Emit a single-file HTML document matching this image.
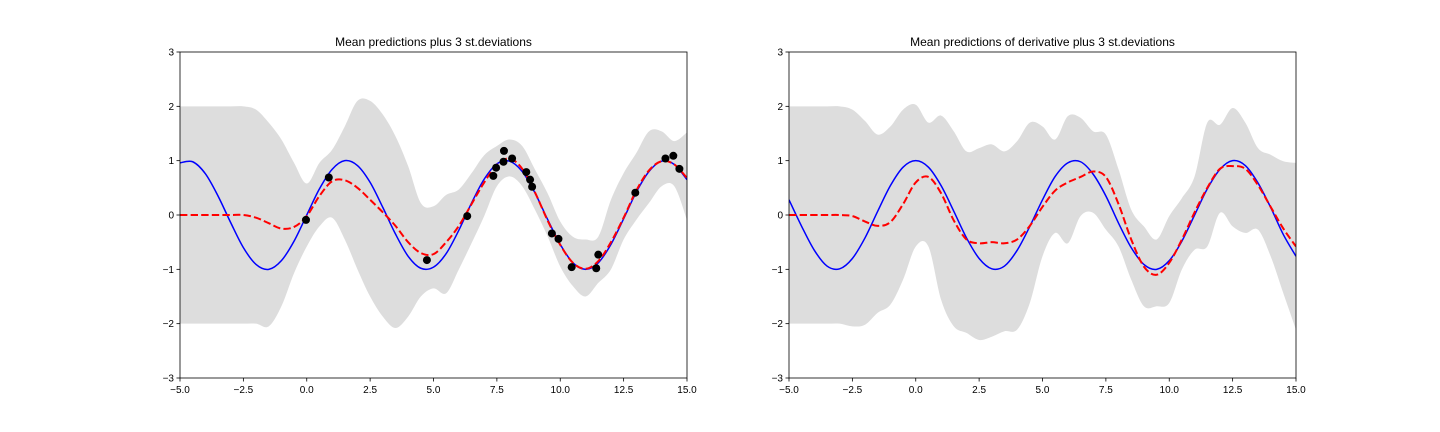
<!DOCTYPE html>
<html><head><meta charset="utf-8"><style>
html,body{margin:0;padding:0;background:#fff;}
svg{display:block;font-family:"Liberation Sans","DejaVu Sans",sans-serif;}
</style></head><body>
<svg id="chart" width="1440" height="432" viewBox="0 0 1440 432" xmlns="http://www.w3.org/2000/svg"></svg>
<script>
const xs = [];
for (let i = 0; i <= 40; i++) xs.push(-5 + i * 0.5);
const xTicks = [-5, -2.5, 0, 2.5, 5, 7.5, 10, 12.5, 15];
const xTickLabels = ["\u22125.0","\u22122.5","0.0","2.5","5.0","7.5","10.0","12.5","15.0"];
const yTicks = [-3, -2, -1, 0, 1, 2, 3];
const yTickLabels = ["\u22123","\u22122","\u22121","0","1","2","3"];

const leftTrue = [0.96,0.98,0.76,0.35,-0.14,-0.60,-0.91,-1.0,-0.84,-0.48,0,0.48,0.84,1.0,0.91,0.60,0.14,-0.35,-0.76,-0.98,-0.96,-0.71,-0.28,0.22,0.66,0.94,0.99,0.80,0.41,-0.08,-0.54,-0.88,-1.0,-0.88,-0.54,-0.07,0.42,0.80,0.99,0.93,0.65];
const leftMean = [0,0,0,0,0,0,-0.05,-0.15,-0.25,-0.22,-0.02,0.35,0.62,0.64,0.5,0.28,0.05,-0.2,-0.5,-0.7,-0.72,-0.5,-0.2,0.2,0.6,0.92,1.04,0.85,0.42,-0.1,-0.55,-0.88,-0.99,-0.85,-0.5,-0.05,0.45,0.82,0.99,0.93,0.68];
const leftUpper = [2,2,2,2,2,2,1.94,1.7,1.39,0.96,0.58,0.96,1.2,1.63,2.1,2.1,1.85,1.45,0.9,0.22,0.16,0.37,0.47,0.77,1.1,1.27,1.39,1.27,0.84,0.4,-0.12,-0.4,-0.45,-0.4,0.28,0.77,1.14,1.54,1.54,1.36,1.52];
const leftLower = [-2,-2,-2,-2,-2,-2,-2,-2.05,-1.68,-1.07,-0.58,-0.21,-0.05,-0.45,-1.0,-1.5,-1.87,-2.08,-1.87,-1.5,-1.35,-1.44,-1.0,-0.52,-0.02,0.53,0.71,0.53,0.1,-0.39,-0.95,-1.31,-1.5,-1.25,-1.0,-0.45,-0.09,0.22,0.53,0.53,-0.09];
const obsX = [-0.03,0.87,4.74,6.33,7.36,7.47,7.76,7.78,8.1,8.66,8.81,8.89,9.67,9.93,10.45,11.42,11.5,12.96,14.15,14.46,14.7];
const obsY = [-0.09,0.69,-0.83,-0.02,0.72,0.87,0.98,1.18,1.04,0.79,0.65,0.52,-0.34,-0.44,-0.96,-0.98,-0.73,0.41,1.04,1.09,0.85];

const rightTrue = [0.28,-0.21,-0.65,-0.94,-0.99,-0.80,-0.42,0.07,0.54,0.88,1.0,0.88,0.54,0.07,-0.42,-0.80,-0.99,-0.94,-0.65,-0.21,0.28,0.71,0.96,0.98,0.75,0.35,-0.15,-0.60,-0.91,-1.0,-0.84,-0.48,0.0,0.48,0.84,1.0,0.91,0.59,0.14,-0.36,-0.76];
const rightMean = [0,0,0,0,0,-0.02,-0.12,-0.2,-0.13,0.2,0.6,0.7,0.4,-0.1,-0.45,-0.52,-0.5,-0.52,-0.45,-0.2,0.15,0.45,0.6,0.7,0.8,0.7,0.2,-0.45,-0.95,-1.1,-0.88,-0.45,0.05,0.5,0.85,0.9,0.85,0.55,0.15,-0.25,-0.58];
const rightUpper = [2,2,2,2,2,1.94,1.73,1.48,1.63,1.94,2.03,1.7,1.83,1.54,1.17,1.23,1.3,1.17,1.36,1.7,1.63,1.39,1.82,1.79,1.54,1.48,0.84,0.1,-0.21,-0.45,-0.02,0.31,0.71,1.7,1.66,1.97,1.7,1.23,1.11,0.99,0.96];
const rightLower = [-2,-2,-2,-2,-2,-2.05,-2.02,-1.8,-1.65,-1.19,-0.58,-0.58,-1.56,-2.05,-2.17,-2.3,-2.24,-2.14,-2.11,-1.62,-0.76,-0.33,-0.52,-0.02,0.04,-0.27,-0.58,-1.19,-1.68,-1.68,-1.62,-1.0,-0.64,-0.58,0.04,-0.21,-0.33,-0.27,-0.76,-1.44,-2.11];

const NS = "http://www.w3.org/2000/svg";
const svg = document.getElementById("chart");
function mk(tag, attrs, parent) {
  const e = document.createElementNS(NS, tag);
  for (const k in attrs) e.setAttribute(k, attrs[k]);
  (parent || svg).appendChild(e);
  return e;
}
function smooth(pts) {
  let d = "M" + pts[0][0].toFixed(2) + "," + pts[0][1].toFixed(2);
  for (let i = 0; i < pts.length - 1; i++) {
    const p0 = pts[Math.max(0, i - 1)], p1 = pts[i], p2 = pts[i + 1], p3 = pts[Math.min(pts.length - 1, i + 2)];
    const c1x = p1[0] + (p2[0] - p0[0]) / 6, c1y = p1[1] + (p2[1] - p0[1]) / 6;
    const c2x = p2[0] - (p3[0] - p1[0]) / 6, c2y = p2[1] - (p3[1] - p1[1]) / 6;
    d += "C" + c1x.toFixed(2) + "," + c1y.toFixed(2) + " " + c2x.toFixed(2) + "," + c2y.toFixed(2) + " " + p2[0].toFixed(2) + "," + p2[1].toFixed(2);
  }
  return d;
}
function panel(id, left, top, w, h, title, trueY, meanY, upY, loY, px, py) {
  const sx = v => left + (v + 5) / 20 * w;
  const sy = v => top + (3 - v) / 6 * h;
  const g = mk("g", {});
  
  
  const clipId = id + "-clip";
  const cp = mk("clipPath", {id: clipId}, g);
  mk("rect", {x: left, y: top, width: w, height: h}, cp);
  const plot = mk("g", {"clip-path": "url(#" + clipId + ")"}, g);
  const upPts = xs.map((x, i) => [sx(x), sy(upY[i])]);
  const loPts = xs.map((x, i) => [sx(x), sy(loY[i])]).reverse();
  const band = mk("path", {d: smooth(upPts) + "L" + smooth(loPts).slice(1) + "Z", fill: "#dddddd", stroke: "none"}, plot);
  
  
  const tl = mk("path", {d: smooth(xs.map((x, i) => [sx(x), sy(trueY[i])])), fill: "none", stroke: "#0000ff", "stroke-width": 1.5}, plot);
  
  
  const ml = mk("path", {d: smooth(xs.map((x, i) => [sx(x), sy(meanY[i])])), fill: "none", stroke: "#ff0000", "stroke-width": 2, "stroke-dasharray": "7.4,3.2"}, plot);
  
  
  if (px) {
    for (let i = 0; i < px.length; i++) {
      const c = mk("circle", {cx: sx(px[i]), cy: sy(py[i]), r: 4, fill: "#000"}, plot);
      
      
    }
  }
  const fr = mk("rect", {x: left, y: top, width: w, height: h, fill: "none", stroke: "#000", "stroke-width": 0.8}, g);
  
  
  xTicks.forEach((t, i) => {
    const x = sx(t);
    mk("line", {x1: x, x2: x, y1: top + h, y2: top + h + 3.5, stroke: "#000", "stroke-width": 0.8}, g);
    const tx = mk("text", {x: x, y: top + h + 15, "font-size": 10, "text-anchor": "middle", fill: "#000"}, g);
    tx.textContent = xTickLabels[i];
    
    
  });
  yTicks.forEach((t, i) => {
    const y = sy(t);
    mk("line", {x1: left - 3.5, x2: left, y1: y, y2: y, stroke: "#000", "stroke-width": 0.8}, g);
    const tx = mk("text", {x: left - 6, y: y + 3.5, "font-size": 10, "text-anchor": "end", fill: "#000"}, g);
    tx.textContent = yTickLabels[i];
    
    
  });
  const tt = mk("text", {x: left + w / 2, y: top - 6, "font-size": 12, "text-anchor": "middle", fill: "#000"}, g);
  tt.textContent = title;
  
  
}
panel("left", 180, 52, 507, 326, "Mean predictions plus 3 st.deviations", leftTrue, leftMean, leftUpper, leftLower, obsX, obsY);
panel("right", 789, 52, 507, 326, "Mean predictions of derivative plus 3 st.deviations", rightTrue, rightMean, rightUpper, rightLower, null, null);
</script>
</body></html>
